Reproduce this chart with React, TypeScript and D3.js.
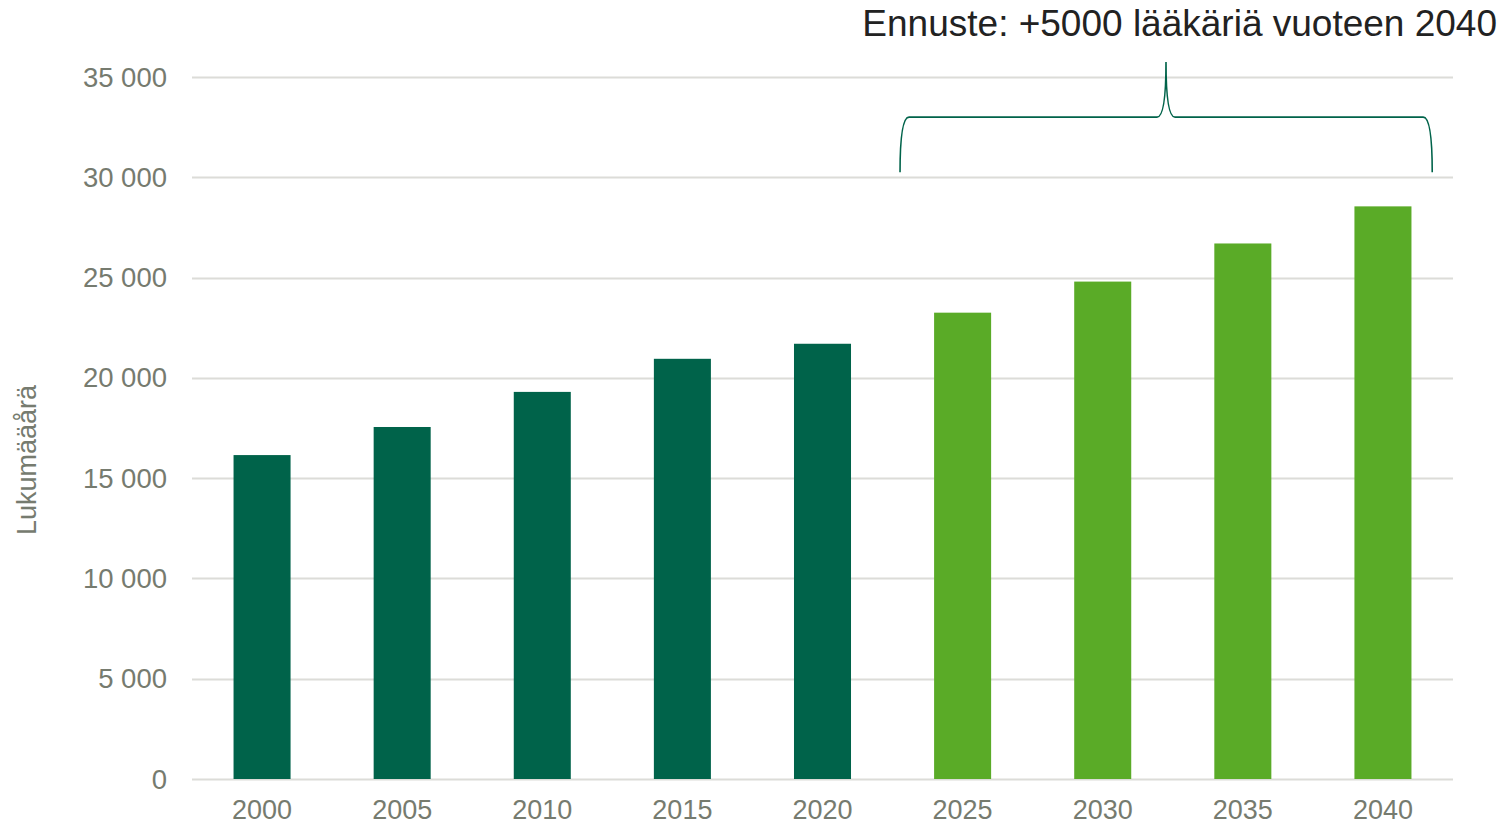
import React, { useEffect, useRef } from 'react';
import * as d3 from 'd3';

// vuodet ja lääkärimäärät (2025 alkaen ennuste)
const years = ['2000', '2005', '2010', '2015', '2020', '2025', '2030', '2035', '2040'];
const doctors = [16150, 17550, 19300, 20950, 21700, 23250, 24800, 26700, 28550];
const forecastFrom = '2025';
const yTicks = [0, 5000, 10000, 15000, 20000, 25000, 30000, 35000];
const title = 'Ennuste: +5000 lääkäriä vuoteen 2040';
const yLabel = 'Lukumääårä';

const W = 1501;
const H = 826;

const App = () => {
  const ref = useRef<SVGSVGElement>(null);

  useEffect(() => {
    const svg = d3.select(ref.current);
    svg.selectAll('*').remove();

    const font = '"Liberation Sans", Arial, sans-serif';
    const tickColor = '#767b6f';
    const dark = '#00634a';
    const light = '#5aab27';

    const x = d3.scaleBand<string>()
      .domain(years)
      .range([192, 1453])
      .paddingInner(0.593)
      .paddingOuter(0.2965);

    const y = d3.scaleLinear().domain([0, 35000]).range([779, 77]);

    // ruudukko
    svg.append('g')
      .selectAll('line')
      .data(yTicks)
      .enter()
      .append('line')
      .attr('x1', 192)
      .attr('x2', 1453)
      .attr('y1', d => Math.round(y(d)) + 0.5)
      .attr('y2', d => Math.round(y(d)) + 0.5)
      .attr('stroke', '#dcdcd8')
      .attr('stroke-width', 2);

    // y-akselin luvut
    const fmt = (v: number) => d3.format(',')(v).replace(/,/g, ' ');
    svg.append('g')
      .selectAll('text')
      .data(yTicks)
      .enter()
      .append('text')
      .attr('x', 167)
      .attr('y', d => y(d))
      .attr('dy', '0.35em')
      .attr('text-anchor', 'end')
      .attr('font-family', font)
      .attr('font-size', 27.5)
      .attr('fill', tickColor)
      .text(d => fmt(d));

    // pylväät
    const forecastIdx = years.indexOf(forecastFrom);
    svg.append('g')
      .selectAll('rect')
      .data(doctors)
      .enter()
      .append('rect')
      .attr('x', (d, i) => x(years[i])!)
      .attr('y', d => y(d))
      .attr('width', x.bandwidth())
      .attr('height', d => y(0) - y(d))
      .attr('fill', (d, i) => (i >= forecastIdx ? light : dark));

    // x-akselin vuodet
    svg.append('g')
      .selectAll('text')
      .data(years)
      .enter()
      .append('text')
      .attr('x', d => x(d)! + x.bandwidth() / 2)
      .attr('y', 819)
      .attr('text-anchor', 'middle')
      .attr('font-family', font)
      .attr('font-size', 27)
      .attr('fill', tickColor)
      .text(d => d);

    // y-akselin otsikko
    svg.append('text')
      .attr('transform', `translate(36,${460}) rotate(-90)`)
      .attr('text-anchor', 'middle')
      .attr('font-family', font)
      .attr('font-size', 27)
      .attr('fill', tickColor)
      .text(yLabel);

    // aaltosulje ennustevuosien päälle
    const gap = x.step() - x.bandwidth();
    const bx0 = x(forecastFrom)! - gap * 0.41;
    const bx1 = x(years[years.length - 1])! + x.bandwidth() + gap * 0.25;
    const bmid = 1166;
    const yEnd = y(30250);
    const yBar = y(33000);
    const yTip = y(35750);
    const r = 9;
    const p = d3.path();
    p.moveTo(bx0, yEnd);
    p.quadraticCurveTo(bx0, yBar, bx0 + r, yBar);
    p.lineTo(bmid - r, yBar);
    p.quadraticCurveTo(bmid, yBar, bmid, yTip);
    p.quadraticCurveTo(bmid, yBar, bmid + r, yBar);
    p.lineTo(bx1 - r, yBar);
    p.quadraticCurveTo(bx1, yBar, bx1, yEnd);
    svg.append('path')
      .attr('d', p.toString())
      .attr('fill', 'none')
      .attr('stroke', dark)
      .attr('stroke-width', 1.6);

    svg.append('text')
      .attr('x', 1497)
      .attr('y', 36)
      .attr('text-anchor', 'end')
      .attr('font-family', font)
      .attr('font-size', 37)
      .attr('fill', '#222222')
      .text(title);
  }, []);

  return (
    <svg
      ref={ref}
      width={W}
      height={H}
      style={{ position: 'absolute', left: 0, top: 0, background: '#ffffff' }}
    />
  );
};

export default App;
